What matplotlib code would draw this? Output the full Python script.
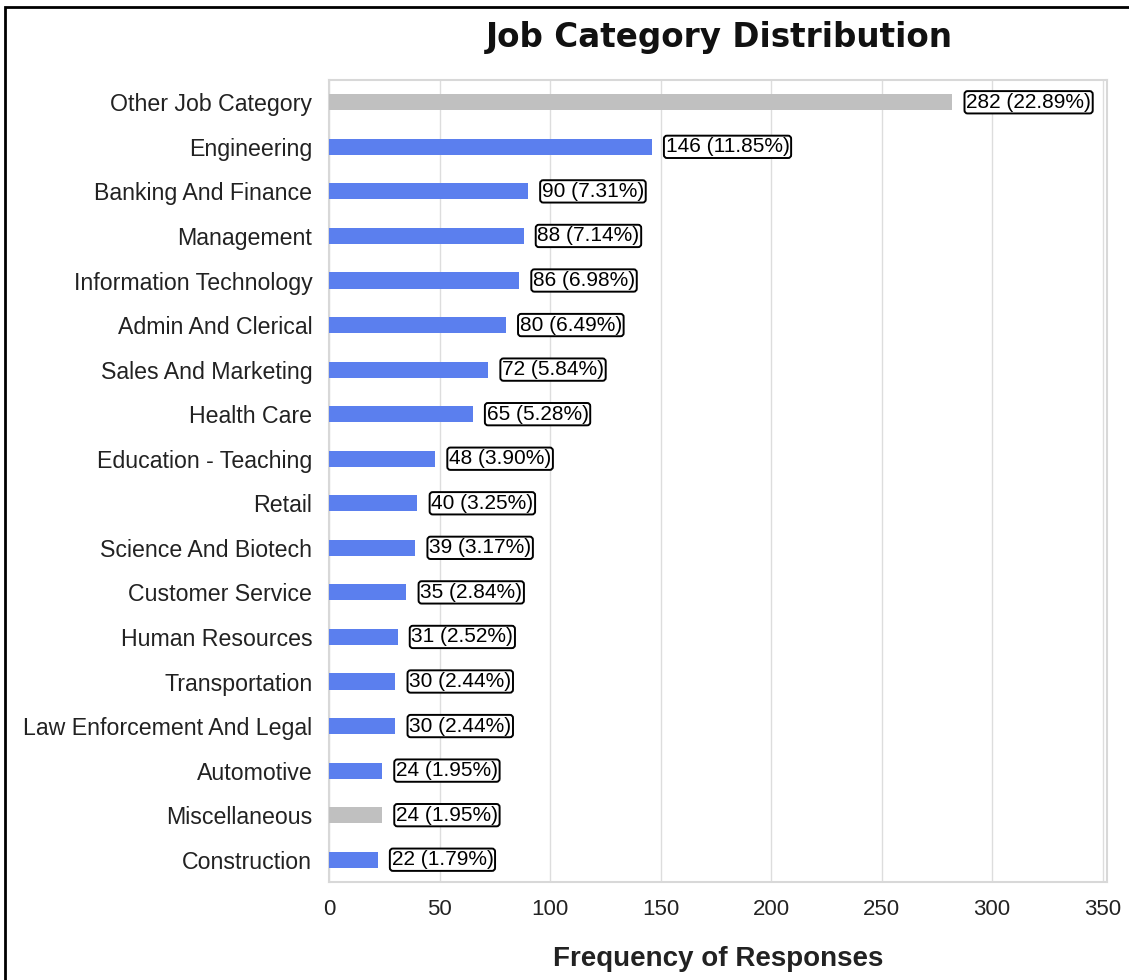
import matplotlib.pyplot as plt
from matplotlib.patches import Rectangle

# job categories, most frequent first
categories = ['Other Job Category', 'Engineering', 'Banking And Finance', 'Management',
              'Information Technology', 'Admin And Clerical', 'Sales And Marketing',
              'Health Care', 'Education - Teaching', 'Retail', 'Science And Biotech',
              'Customer Service', 'Human Resources', 'Transportation',
              'Law Enforcement And Legal', 'Automotive', 'Miscellaneous', 'Construction']
counts = [282, 146, 90, 88, 86, 80, 72, 65, 48, 40, 39, 35, 31, 30, 30, 24, 24, 22]
percents = [22.89, 11.85, 7.31, 7.14, 6.98, 6.49, 5.84, 5.28, 3.90, 3.25, 3.17,
            2.84, 2.52, 2.44, 2.44, 1.95, 1.95, 1.79]
grey_cats = ['Other Job Category', 'Miscellaneous']

plt.rcParams['font.family'] = ['Liberation Sans', 'DejaVu Sans']

fig = plt.figure(figsize=(11.29, 9.8), dpi=100)
ax = fig.add_axes([329 / 1129, 1 - 882 / 980, (1107 - 329) / 1129, (882 - 80) / 980])

colors = ['#c0c0c0' if c in grey_cats else '#5b7fee' for c in categories]
ypos = list(range(len(categories)))
ax.barh(ypos, counts, height=0.36, color=colors, zorder=3)

for y, v, p in zip(ypos, counts, percents):
    ax.annotate(f'{v} ({p:.2f}%)', xy=(v, y), xytext=(10, 0), textcoords='offset points',
                va='center', ha='left', fontsize=15, color='black',
                bbox=dict(boxstyle='round,pad=0.08,rounding_size=0.15', fc='white',
                          ec='black', lw=1.4),
                zorder=4)

ax.set_yticks(ypos)
ax.set_yticklabels(categories, fontsize=16.7, color='#222222')
ax.set_ylim(len(categories) - 0.5, -0.5)
ax.set_xlim(0, 352)
ax.set_xticks(range(0, 351, 50))
ax.tick_params(axis='x', labelsize=16, colors='#222222', length=0, pad=12)
ax.tick_params(axis='y', length=0, pad=12)
ax.grid(axis='x', color='#dddddd', linewidth=1, zorder=0)
for s in ax.spines.values():
    s.set_color('#d8d8d8')
    s.set_linewidth(1.5)

ax.set_xlabel('Frequency of Responses', fontsize=20, fontweight='bold', color='#222222',
              labelpad=19)
fig.text(0.637, 1 - 37 / 980, 'Job Category Distribution', ha='center', va='center',
         fontsize=23.5, fontweight='bold', family='DejaVu Sans', color='#111111')

# frame around the whole figure
fig.patches.append(Rectangle((5 / 1129, -0.1), 1.2, 1.1 - 7 / 980, transform=fig.transFigure,
                             fill=False, ec='black', lw=2))

fig.savefig('out.png', dpi=100)
